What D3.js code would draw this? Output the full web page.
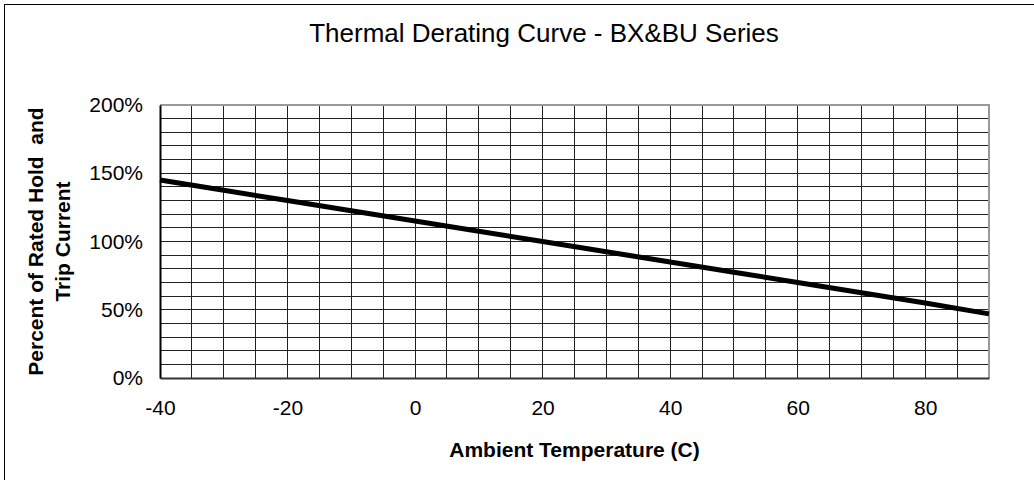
<!DOCTYPE html>
<html>
<head>
<meta charset="utf-8">
<script src="https://cdn.jsdelivr.net/npm/d3@7"></script>
<style>
  body { margin: 0; background: #fff; }
  svg text { font-family: "Liberation Sans", Arial, sans-serif; fill: #000; }
</style>
</head>
<body>
<div id="chart"></div>
<script>
// derating data
var temps    = [-40, -30, -20, -10, 0, 10, 20, 30, 40, 50, 60, 70, 80, 90];
var percents = [145, 137.5, 130, 122.5, 115, 107.5, 100, 92.5, 85, 77.5, 70, 62.5, 55, 47];

var xTicks = [-40, -20, 0, 20, 40, 60, 80];
var yTicks = [0, 50, 100, 150, 200];

var title   = 'Thermal Derating Curve - BX&BU Series';
var xTitle  = 'Ambient Temperature (C)';
var yTitles = ['Percent of Rated Hold  and', 'Trip Current'];

var width  = 1034;
var height = 480;
var plot   = {left: 160, right: 989, top: 105, bottom: 378};

var svg = d3.select('#chart').append('svg')
            .attr('width', width)
            .attr('height', height);

// outer chart border (only left / top visible in the picture)
svg.append('rect')
   .attr('x', 4.5).attr('y', 4.5)
   .attr('width', width + 10).attr('height', height + 10)
   .attr('fill', 'none')
   .attr('stroke', '#000')
   .attr('stroke-width', 1);

var x = d3.scaleLinear().domain([-40, 90]).range([plot.left, plot.right]);
var y = d3.scaleLinear().domain([0, 200]).range([plot.bottom, plot.top]);

// grid: every 5 degrees, every 10 %
var grid = svg.append('g').attr('shape-rendering', 'crispEdges');
grid.selectAll('line.v').data(d3.range(-35, 90, 5)).enter()
    .append('line').attr('class', 'v')
    .attr('x1', function(d) { return x(d); })
    .attr('x2', function(d) { return x(d); })
    .attr('y1', plot.top).attr('y2', plot.bottom)
    .attr('stroke', '#222');
grid.selectAll('line.h').data(d3.range(10, 200, 10)).enter()
    .append('line').attr('class', 'h')
    .attr('y1', function(d) { return y(d); })
    .attr('y2', function(d) { return y(d); })
    .attr('x1', plot.left).attr('x2', plot.right)
    .attr('stroke', '#222');

// plot frame: gray top/right, dark axes left/bottom
grid.append('line')
    .attr('x1', plot.left).attr('x2', plot.right + 1)
    .attr('y1', plot.top).attr('y2', plot.top)
    .attr('stroke', '#999').attr('stroke-width', 2);
grid.append('line')
    .attr('x1', plot.right).attr('x2', plot.right)
    .attr('y1', plot.top).attr('y2', plot.bottom)
    .attr('stroke', '#999').attr('stroke-width', 2);

var xAxis = d3.axisBottom(x).tickValues(xTicks).tickSize(0).tickPadding(22)
              .tickFormat(function(d) { return String(d); });
var yAxis = d3.axisLeft(y).tickValues(yTicks).tickSize(0).tickPadding(17)
              .tickFormat(function(d) { return d + '%'; });

var gx = svg.append('g')
            .attr('transform', 'translate(0,' + plot.bottom + ')')
            .call(xAxis);
gx.select('.domain').attr('stroke', '#333').attr('stroke-width', 2);
gx.selectAll('text').style('font-size', '21px');

var gy = svg.append('g')
            .attr('transform', 'translate(' + plot.left + ',0)')
            .call(yAxis);
gy.select('.domain').attr('stroke', '#000').attr('stroke-width', 2);
gy.selectAll('text').style('font-size', '21px');
svg.selectAll('.tick text').attr('fill', '#000');

// the curve
var line = d3.line()
             .x(function(d, i) { return x(temps[i]); })
             .y(function(d) { return y(d); });
svg.append('path')
   .datum(percents)
   .attr('d', line)
   .attr('fill', 'none')
   .attr('stroke', '#000')
   .attr('stroke-width', 5);

// titles
svg.append('text')
   .attr('x', 544).attr('y', 42)
   .attr('text-anchor', 'middle')
   .style('font-size', '26px')
   .text(title);

svg.append('text')
   .attr('x', (plot.left + plot.right) / 2).attr('y', 457)
   .attr('text-anchor', 'middle')
   .style('font-size', '21px').style('font-weight', 'bold')
   .text(xTitle);

svg.selectAll('text.ytitle').data(yTitles).enter()
   .append('text').attr('class', 'ytitle')
   .attr('transform', function(d, i) {
     return 'translate(' + (43 + i * 27) + ',' + ((plot.top + plot.bottom) / 2) + ') rotate(-90)';
   })
   .attr('text-anchor', 'middle')
   .style('font-size', '21px').style('font-weight', 'bold')
   .style('white-space', 'pre')
   .text(function(d) { return d; });
</script>
</body>
</html>
